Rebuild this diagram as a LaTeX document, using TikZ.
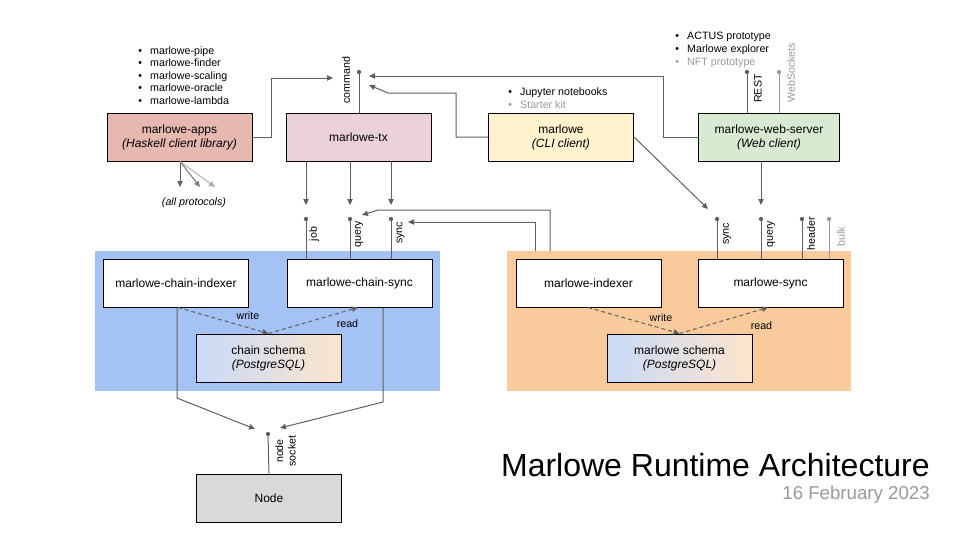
\documentclass[tikz,border=0pt]{standalone}
\usepackage{fontspec}
\setmainfont{Liberation Sans}
\usetikzlibrary{arrows.meta}
\definecolor{lc}{HTML}{5F5F5F}
\definecolor{greyT}{HTML}{999999}
\definecolor{appsC}{HTML}{E6B8AF}
\definecolor{txC}{HTML}{EAD1DC}
\definecolor{cliC}{HTML}{FFF2CC}
\definecolor{webC}{HTML}{D9EAD3}
\definecolor{blueR}{HTML}{A4C2F4}
\definecolor{orangeR}{HTML}{F9CB9C}
\definecolor{nodeC}{HTML}{D9D9D9}
\definecolor{schA}{HTML}{C9DAF8}
\definecolor{schB}{HTML}{FCE5CD}
\begin{document}
\begin{tikzpicture}[x=0.75pt,y=-0.75pt,
  box/.style={draw=black, line width=0.75pt, minimum width=108.75pt, minimum height=36pt, align=center, font=\fontsize{9}{10.5}\selectfont, inner sep=0pt},
  conn/.style={draw=lc, line width=0.75pt},
  arr/.style={conn, -{Triangle[length=4.5pt,width=4pt]}},
  darr/.style={arr, dash pattern=on 3pt off 2.2pt},
  dot/.style={circle, fill=lc, inner sep=0pt, minimum size=3.2pt},
  lab/.style={font=\fontsize{8}{9.4}\selectfont, inner sep=0pt},
  vlab/.style={lab, rotate=90},
  item/.style={lab, anchor=base west},
  region/.style={inner sep=0pt, anchor=north west, minimum height=105pt}
]
\useasboundingbox (0,0) rectangle (960,540);

% regions
\node[region, fill=blueR, minimum width=258.75pt] (blue) at (95,251) {};
\node[region, fill=orangeR, minimum width=258pt] (orange) at (507,251) {};

% boxes
\node[box, fill=appsC] (apps) at (179.5,137) {marlowe-apps\\\itshape(Haskell client library)};
\node[box, fill=txC] (tx) at (358.5,137) {marlowe-tx};
\node[box, fill=cliC] (cli) at (561,137) {marlowe\\\itshape(CLI client)};
\node[box, fill=webC, minimum width=105.75pt] (web) at (769,137) {marlowe-web-server\\\itshape(Web client)};
\node[box, fill=white] (cidx) at (176,283) {marlowe-chain-indexer};
\node[box, fill=white] (csync) at (359.5,283) {marlowe-chain-sync};
\node[box, left color=schA, right color=schB] (csch) at (268.5,358) {chain schema\\\itshape(PostgreSQL)};
\node[box, fill=white] (idx) at (588.5,283) {marlowe-indexer};
\node[box, fill=white] (msync) at (770.5,283) {marlowe-sync};
\node[box, left color=schA, right color=schB] (msch) at (679.5,358) {marlowe schema\\\itshape(PostgreSQL)};
\node[box, fill=nodeC] (node) at (269,498) {Node};

% dots
\node[dot] (cmd) at (359,72) {};
\node[dot] (job) at (306,219) {};
\node[dot] (qry) at (350,219) {};
\node[dot] (syn) at (391,219) {};
\node[dot] (ms1) at (717,219) {};
\node[dot] (ms2) at (761,219) {};
\node[dot] (ms3) at (802,219) {};
\node[dot, fill=greyT] (ms4) at (829,219) {};
\node[dot] (rest) at (747,72) {};
\node[dot, fill=greyT] (ws) at (779,72) {};
\node[dot] (sock) at (268,434) {};

% named end points
\coordinate (cmdA) at (333,78);
\coordinate (cmdB) at (369,76);
\coordinate (cmdC) at (369,85);
\coordinate (jobT) at (306,205);
\coordinate (qryT) at (350,205);
\coordinate (synT) at (391,205);
\coordinate (qIn) at (362,215);
\coordinate (sIn) at (408,222);
\coordinate (msT) at (708,209);
\coordinate (wT) at (761,205);
\coordinate (nA) at (255,429);
\coordinate (nB) at (280,428);
\coordinate (pA) at (180,187);
\coordinate (pB) at (200,187);
\coordinate (pC) at (215,187);
\coordinate (x550) at (550,0);
\coordinate (x535) at (535,0);

% stubs
\draw[conn] (cmd) -- (cmd |- tx.north);
\draw[conn] (job) -- (job |- csync.north);
\draw[conn] (qry) -- (qry |- csync.north);
\draw[conn] (syn) -- (syn |- csync.north);
\draw[conn] (ms1) -- (ms1 |- msync.north);
\draw[conn] (ms2) -- (ms2 |- msync.north);
\draw[conn] (ms3) -- (ms3 |- msync.north);
\draw[conn, draw=greyT] (ms4) -- (ms4 |- msync.north);
\draw[conn] (rest) -- (rest |- web.north);
\draw[conn, draw=greyT] (ws) -- (ws |- web.north);
\draw[conn] (sock) -- (node.north);

% connectors
\draw[arr] (apps.east) -- ++(19,0) |- (cmdA);
\draw[arr] (web.west) -- ++(-35,0) |- (cmdB);
\draw[arr] (cli.west) -- ++(-32,0) |- (388,93) -- (cmdC);
\draw[arr] (tx.south -| jobT) -- (jobT);
\draw[arr] (tx.south -| qryT) -- (qryT);
\draw[arr] (tx.south -| synT) -- (synT);
\draw[arr] (orange.north -| x550) |- (378,210) -- (qIn);
\draw[arr] (orange.north -| x535) |- (sIn);
\draw[arr] (cli.east) -- (msT);
\draw[arr] (web.south -| wT) -- (wT);
\draw[arr] (apps.south -| pA) -- (pA);
\draw[arr, draw=lc!85] (apps.south -| pA) -- (pB);
\draw[arr, draw=greyT!80] (apps.south -| pA) -- (pC);
\draw[darr] (cidx.south -| 178,0) -- (csch.north);
\draw[darr] (csch.north) -- (csync.south -| 358,0);
\draw[darr] (idx.south -| 588,0) -- (msch.north);
\draw[darr] (msch.north) -- (msync.south -| 768,0);
\draw[arr] (cidx.south -| 177,0) -- (177,398) -- (nA);
\draw[arr] (csync.south -| 383,0) -- (383,402) -- (nB);

% labels
\node[vlab, anchor=west] (lcmd) at (346,104) {command};
\node[vlab, anchor=west] (lrest) at (758,103) {REST};
\node[vlab, anchor=west, text=greyT] (lws) at (791,103) {WebSockets};
\node[vlab] (ljob) at (314,234) {job};
\node[vlab] (lqry) at (359,234) {query};
\node[vlab] (lsyn) at (400.5,233) {sync};
\node[vlab] (lms1) at (727,234) {sync};
\node[vlab] (lms2) at (771,234) {query};
\node[vlab] (lms3) at (811,234) {header};
\node[vlab, text=greyT] (lms4) at (841,237) {bulk};
\node[vlab, align=center] (lsock) at (285.5,451) {node\\socket};
\node[lab, anchor=base] (w1) at (248,319) {write};
\node[lab, anchor=base] (r1) at (347.5,327) {read};
\node[lab, anchor=base] (w2) at (661,321) {write};
\node[lab, anchor=base] (r2) at (761.5,329) {read};
\node[lab, anchor=base, font=\fontsize{8}{9.4}\selectfont\itshape] (allp) at (194,205) {(all protocols)};

% bullet lists
\node[item] (i1) at (138.1,54) {•\hspace{6.1pt}marlowe-pipe};
\node[item] (i2) at (138.1,66.5) {•\hspace{6.1pt}marlowe-finder};
\node[item] (i3) at (138.1,79) {•\hspace{6.1pt}marlowe-scaling};
\node[item] (i4) at (138.1,91.5) {•\hspace{6.1pt}marlowe-oracle};
\node[item] (i5) at (138.1,104) {•\hspace{6.1pt}marlowe-lambda};
\node[item] (j1) at (508.1,95) {•\hspace{6.1pt}Jupyter notebooks};
\node[item, text=greyT] (j2) at (508.1,108) {•\hspace{6.1pt}Starter kit};
\node[item] (k1) at (675.1,39) {•\hspace{6.1pt}ACTUS prototype};
\node[item] (k2) at (675.1,52) {•\hspace{6.1pt}Marlowe explorer};
\node[item, text=greyT] (k3) at (675.1,65) {•\hspace{6.1pt}NFT prototype};

% title
\node[anchor=base east, inner sep=0pt, font=\fontsize{24}{28}\selectfont] (title) at (930,476) {Marlowe Runtime Architecture};
\node[anchor=base east, inner sep=0pt, font=\fontsize{14}{16}\selectfont, text=greyT] (date) at (930,499) {16 February 2023};
\end{tikzpicture}
\end{document}
